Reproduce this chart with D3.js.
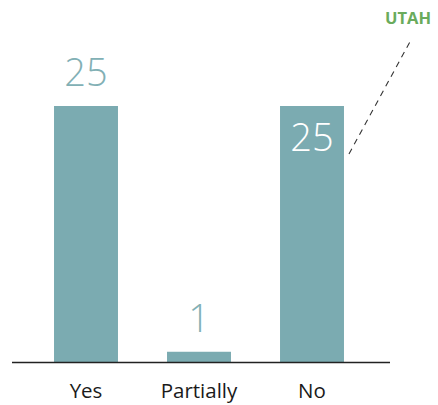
<!DOCTYPE html>
<html>
<head>
<meta charset="utf-8">
<script src="https://cdn.jsdelivr.net/npm/d3@7"></script>
<style>
  body { margin: 0; background: #fff; }
  text { font-family: "Open Sans", "Noto Sans", sans-serif; }
</style>
</head>
<body>
<div id="chart"></div>
<script>
var categories = ["Yes", "Partially", "No"];
var values = [25, 1, 25];
var insideLabel = [false, false, true]; // label drawn inside the bar
var highlight = "UTAH";

var width = 438, height = 405;
var baseline = 362;

var svg = d3.select("#chart")
  .append("svg")
  .attr("width", width)
  .attr("height", height);

var x = d3.scaleBand()
  .domain(categories)
  .range([29.5, 368.5])
  .paddingInner(0.434)
  .paddingOuter(0.217);

var y = d3.scaleLinear()
  .domain([0, 25])
  .range([baseline, 106]);

var data = categories.map(function(c, i) {
  return { label: c, value: values[i], inside: insideLabel[i] };
});

svg.selectAll(".bar")
  .data(data)
  .enter()
  .append("rect")
  .attr("class", "bar")
  .attr("x", function(d) { return x(d.label); })
  .attr("y", function(d) { return y(d.value); })
  .attr("width", x.bandwidth())
  .attr("height", function(d) { return baseline - y(d.value); })
  .attr("fill", "#7babb1");

svg.selectAll(".val")
  .data(data)
  .enter()
  .append("text")
  .attr("class", "val")
  .attr("x", function(d) { return x(d.label) + x.bandwidth() / 2; })
  .attr("y", function(d) { return d.inside ? y(d.value) + 45 : y(d.value) - 20; })
  .attr("text-anchor", "middle")
  .attr("font-size", 38)
  .attr("font-weight", 300)
  .attr("fill", function(d) { return d.inside ? "#ffffff" : "#82b0b5"; })
  .text(function(d) { return d.value; });

// baseline axis
svg.append("line")
  .attr("x1", 12).attr("x2", 390)
  .attr("y1", baseline + 0.5).attr("y2", baseline + 0.5)
  .attr("stroke", "#222")
  .attr("stroke-width", 1.5);

svg.selectAll(".cat")
  .data(data)
  .enter()
  .append("text")
  .attr("class", "cat")
  .attr("x", function(d) { return x(d.label) + x.bandwidth() / 2; })
  .attr("y", 398)
  .attr("text-anchor", "middle")
  .attr("font-size", 20.5)
  .attr("fill", "#1a1a1a")
  .text(function(d) { return d.label; });

// callout for the highlighted state
var noBar = categories[2];
svg.append("line")
  .attr("x1", x(noBar) + x.bandwidth() + 5)
  .attr("y1", y(values[2]) + 48)
  .attr("x2", 412)
  .attr("y2", 38)
  .attr("stroke", "#333")
  .attr("stroke-width", 1.1)
  .attr("stroke-dasharray", "6,5");

svg.append("text")
  .attr("x", 408)
  .attr("y", 24)
  .attr("text-anchor", "middle")
  .attr("font-size", 16.5)
  .attr("font-weight", 700)
  .attr("fill", "#6aab5c")
  .text(highlight);
</script>
</body>
</html>
